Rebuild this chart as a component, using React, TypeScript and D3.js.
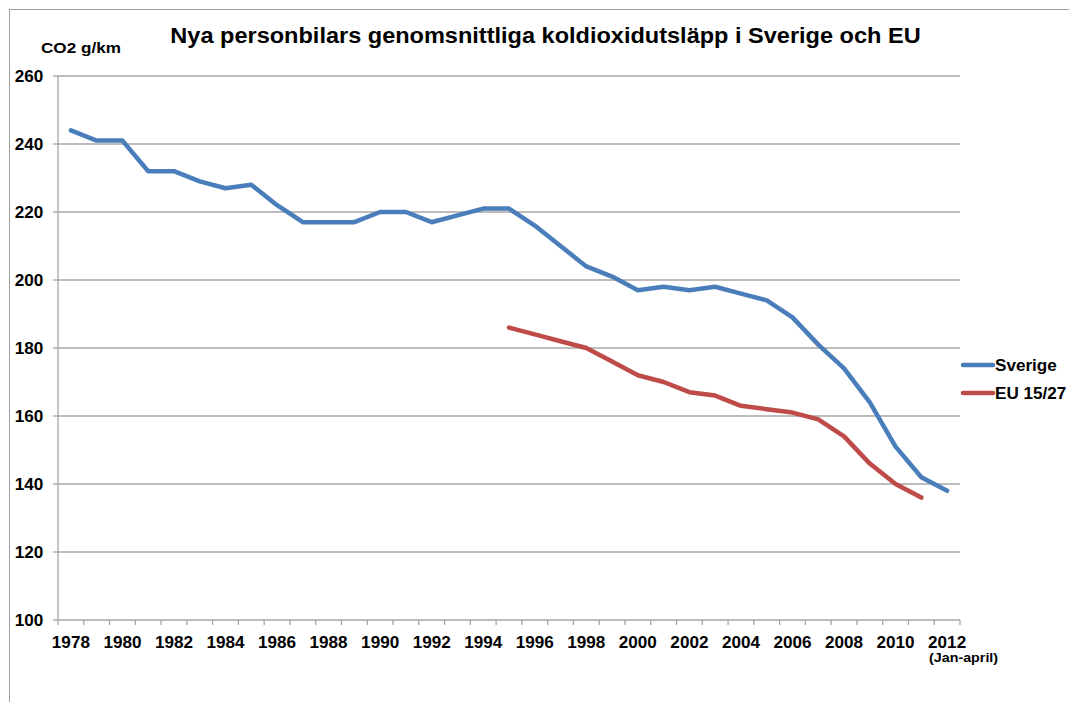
import React from "react";
import * as d3 from "d3";

const years: string[] = [
  "1978","1979","1980","1981","1982","1983","1984","1985","1986","1987",
  "1988","1989","1990","1991","1992","1993","1994","1995","1996","1997",
  "1998","1999","2000","2001","2002","2003","2004","2005","2006","2007",
  "2008","2009","2010","2011","2012",
];
const sverige: number[] = [
  244, 241, 241, 232, 232, 229, 227, 228, 222, 217,
  217, 217, 220, 220, 217, 219, 221, 221, 216, 210,
  204, 201, 197, 198, 197, 198, 196, 194, 189, 181,
  174, 164, 151, 142, 138,
];
const euYears: string[] = [
  "1995","1996","1997","1998","1999","2000","2001","2002","2003","2004",
  "2005","2006","2007","2008","2009","2010","2011",
];
const eu: number[] = [
  186, 184, 182, 180, 176, 172, 170, 167, 166, 163,
  162, 161, 159, 154, 146, 140, 136,
];
const yTicks: number[] = [100, 120, 140, 160, 180, 200, 220, 240, 260];
const xLabelYears: string[] = years.filter((_, i) => i % 2 === 0);
const seriesNames: string[] = ["Sverige", "EU 15/27"];
const seriesColors: string[] = ["#4a7ebb", "#be4b48"];

const W = 1069;
const H = 702;
const left = 58;
const right = 960;
const top = 76;
const bottom = 620;
const font = "'Liberation Sans', Arial, sans-serif";

type TProps = {
  x: number;
  y: number;
  size: number;
  sx?: number;
  anchor?: "start" | "middle" | "end";
  children: React.ReactNode;
};
function T({ x, y, size, sx = 1.06, anchor = "start", children }: TProps) {
  return (
    <text
      transform={`translate(${x},${y}) scale(${sx},1)`}
      textAnchor={anchor}
      fontSize={size}
      fontWeight="bold"
      fill="#000"
    >
      {children}
    </text>
  );
}

export default function App() {
  const x = d3.scaleBand<string>().domain(years).range([left, right]).padding(0);
  const y = d3.scaleLinear().domain([100, 260]).range([bottom, top]);
  const cx = (yr: string) => (x(yr) as number) + x.bandwidth() / 2;
  const line = d3
    .line<[string, number]>()
    .x((d) => cx(d[0]))
    .y((d) => y(d[1]));
  const sv: [string, number][] = years.map((yr, i) => [yr, sverige[i]]);
  const ev: [string, number][] = euYears.map((yr, i) => [yr, eu[i]]);
  const tickXs = years.map((yr) => x(yr) as number).concat([right]);

  return (
    <svg
      width={W}
      height={H}
      style={{ position: "absolute", left: 0, top: 0, background: "#fff" }}
      fontFamily={font}
    >
      <rect x={9.5} y={9.5} width={W + 10} height={H + 10} fill="#fff" stroke="#a0a0a0" strokeWidth={1} />
      <T x={545.5} y={42.5} size={22} sx={1.07} anchor="middle">
        Nya personbilars genomsnittliga koldioxidutsläpp i Sverige och EU
      </T>
      <T x={41} y={52.7} size={15.3} sx={1.12}>CO2 g/km</T>
      {yTicks.map((t) => (
        <g key={t}>
          {t !== 100 && (
            <line x1={left} x2={right} y1={y(t)} y2={y(t)} stroke="#a6a6a6" strokeWidth={1.3} />
          )}
          <line x1={left - 5} x2={left} y1={y(t)} y2={y(t)} stroke="#a6a6a6" strokeWidth={1.3} />
          <T x={43.3} y={y(t) + 5.5} size={16.3} sx={1.05} anchor="end">
            {t}
          </T>
        </g>
      ))}
      <line x1={left} x2={left} y1={top} y2={bottom} stroke="#a6a6a6" strokeWidth={1.3} />
      <line x1={left} x2={right} y1={bottom} y2={bottom} stroke="#a6a6a6" strokeWidth={1.3} />
      {tickXs.map((tx, i) => (
        <line key={i} x1={tx} x2={tx} y1={bottom} y2={bottom + 5} stroke="#a6a6a6" strokeWidth={1.3} />
      ))}
      {xLabelYears.map((yr) => (
        <T key={yr} x={cx(yr)} y={647.5} size={16.3} sx={1.05} anchor="middle">
          {yr}
        </T>
      ))}
      <T x={929} y={661.7} size={13} sx={1.1}>(Jan-april)</T>
      <path d={line(sv) || ""} fill="none" stroke={seriesColors[0]} strokeWidth={4.5} strokeLinejoin="round" strokeLinecap="round" />
      <path d={line(ev) || ""} fill="none" stroke={seriesColors[1]} strokeWidth={4.5} strokeLinejoin="round" strokeLinecap="round" />
      {seriesNames.map((n, i) => (
        <g key={n}>
          <line x1={963} x2={993} y1={365 + i * 28} y2={365 + i * 28} stroke={seriesColors[i]} strokeWidth={4.5} strokeLinecap="round" />
          <T x={995} y={370.5 + i * 28} size={16} sx={1.07}>{n}</T>
        </g>
      ))}
    </svg>
  );
}
